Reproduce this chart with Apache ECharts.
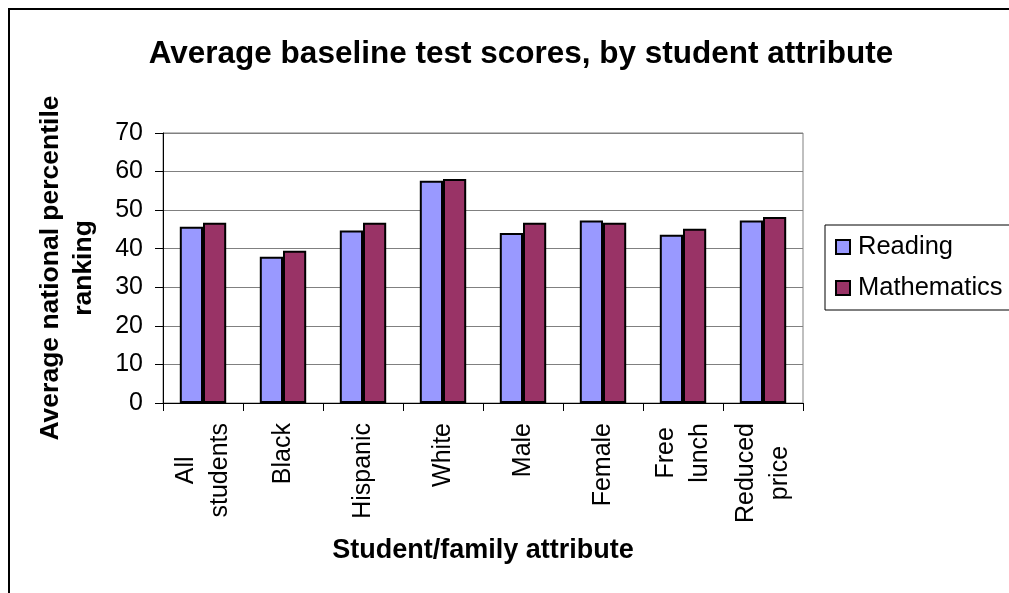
<!DOCTYPE html>
<html>
<head>
<meta charset="utf-8">
<script src="https://cdn.jsdelivr.net/npm/echarts@6/dist/echarts.min.js"></script>
<style>
html,body{margin:0;padding:0;background:#fff;}
#chart{width:1009px;height:593px;}
</style>
</head>
<body>
<div id="chart"></div>
<script>
const categories = ["All students", "Black", "Hispanic", "White", "Male", "Female", "Free lunch", "Reduced price"];
const reading = [45.7, 37.9, 44.7, 57.6, 44.1, 47.3, 43.6, 47.3];
const mathematics = [46.7, 39.5, 46.7, 58.1, 46.7, 46.7, 45.2, 48.2];
const yTicks = [0, 10, 20, 30, 40, 50, 60, 70];

const FONT = "'Liberation Sans', Arial, sans-serif";
const chart = echarts.init(document.getElementById('chart'), null, {renderer: 'canvas'});
chart.setOption({
  animation: false,
  backgroundColor: '#fff',
  title: {
    text: 'Average baseline test scores, by student attribute',
    left: 516, top: 33, textAlign: 'center',
    textStyle: {fontFamily: FONT, fontSize: 31.5, fontWeight: 'bold', color: '#000'}
  },
  legend: {
    orient: 'vertical',
    left: 825, top: 225,
    padding: [9, 30, 9, 10],
    itemGap: 15,
    itemWidth: 14, itemHeight: 14,
    icon: 'rect',
    borderColor: '#000', borderWidth: 1,
    textStyle: {fontFamily: FONT, fontSize: 25.5, color: '#000', padding: [0, 0, 0, 3]},
    data: ['Reading', 'Mathematics']
  },
  graphic: [{
    type: 'rect', silent: true, z: 100,
    shape: {x: 9, y: 9, width: 1020, height: 620},
    style: {fill: 'none', stroke: '#000', lineWidth: 2}
  }],
  grid: {
    left: 163, right: 206, top: 133, bottom: 190,
    show: true, borderColor: '#808080', borderWidth: 1, backgroundColor: 'transparent'
  },
  xAxis: {
    type: 'category',
    data: categories,
    name: 'Student/family attribute',
    nameLocation: 'middle',
    nameGap: 134,
    nameTextStyle: {fontFamily: FONT, fontSize: 27, fontWeight: 'bold', color: '#000'},
    axisLine: {lineStyle: {color: '#000', width: 1}},
    axisTick: {show: true, length: 8, lineStyle: {color: '#000'}},
    axisLabel: {
      interval: 0, rotate: 90, margin: 20,
      fontFamily: FONT, fontSize: 25, color: '#000', lineHeight: 34,
      formatter: v => v.split(' ').map(s => '{c|' + s + '}').join('\n'),
      rich: {c: {align: 'center', fontFamily: FONT, fontSize: 25, color: '#000', lineHeight: 34}}
    }
  },
  yAxis: {
    type: 'value',
    min: yTicks[0], max: yTicks[yTicks.length - 1], interval: 10,
    name: 'Average national percentile\nranking',
    nameLocation: 'middle',
    nameRotate: 90,
    nameGap: 63,
    nameTextStyle: {fontFamily: FONT, fontSize: 26.5, fontWeight: 'bold', color: '#000', lineHeight: 33},
    axisLine: {show: true, lineStyle: {color: '#000', width: 1}},
    axisTick: {show: true, length: 8, lineStyle: {color: '#000'}},
    axisLabel: {margin: 20, fontFamily: FONT, fontSize: 25, color: '#000'},
    splitLine: {show: true, lineStyle: {color: '#808080', width: 1}}
  },
  series: [{
    name: 'Reading', type: 'bar', data: reading,
    barGap: '0%', barCategoryGap: '42%',
    itemStyle: {color: '#9999FF', borderColor: '#000', borderWidth: 2}
  }, {
    name: 'Mathematics', type: 'bar', data: mathematics,
    itemStyle: {color: '#993366', borderColor: '#000', borderWidth: 2}
  }]
});
</script>
</body>
</html>
